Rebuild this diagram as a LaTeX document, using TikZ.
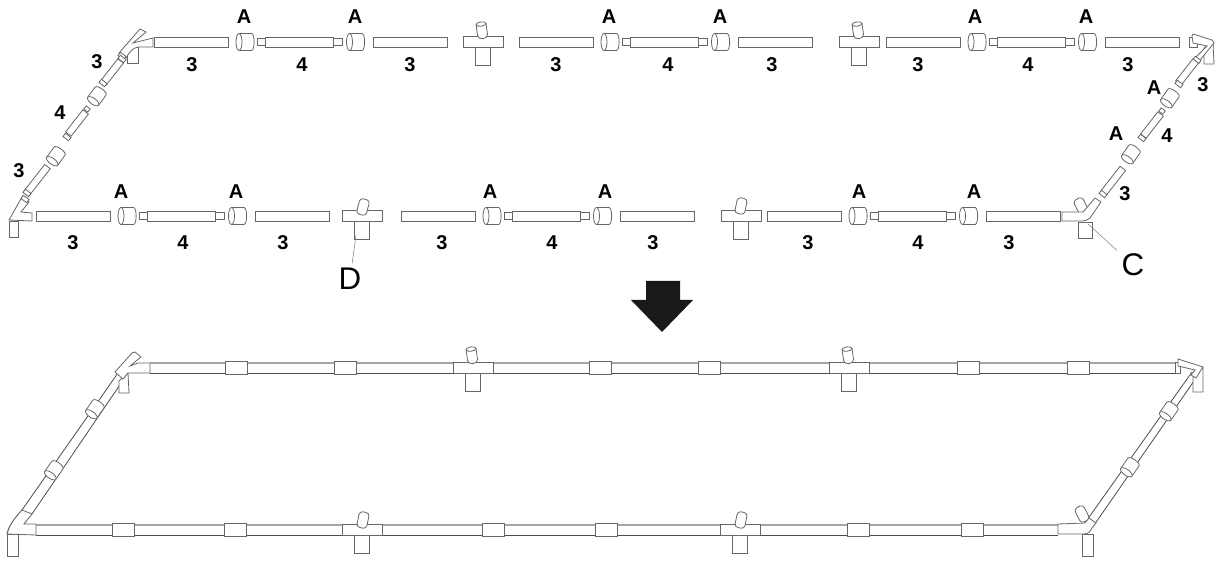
\documentclass[tikz,border=0pt]{standalone}
\usepackage{fontspec}
\setmainfont{Liberation Sans}
\tikzset{
  tubo/.style={draw=black!60, line width=0.6pt, fill=white},
  clara/.style={draw=black!35, line width=0.9pt},
  oscura/.style={draw=black!70, line width=0.6pt},
  guia/.style={draw=black!50, line width=0.4pt},
  cifra/.style={font=\fontsize{15pt}{16pt}\selectfont\bfseries},
  letra/.style={font=\fontsize{23.5pt}{24pt}\selectfont},
  pics/acople/.style={code={
    \draw[tubo] (-6.5,-8.5) -- (6,-8.5) .. controls (9.5,-8.5) and (9.5,8.5) .. (6,8.5) -- (-6.5,8.5);
    \draw[tubo] (-6.5,0) ellipse (3 and 8.5);
  }},
  pics/tramo/.style={code={\draw[tubo] (-#1,-3.5) rectangle (#1,3.5);}},
  pics/anillo/.style={code={\draw[tubo] (-2,-#1) rectangle (2,#1);}},
  pics/te/.style={code={
    \draw[tubo] (-7.5,5) rectangle (7.5,23);
    \draw[tubo] (-20,-5.5) rectangle (20,5.5);
  }},
  pics/boca/.style={code={\draw[tubo,rounded corners=2.5pt] (-5,-8) rectangle (5,8);}},
  pics/tapa/.style={code={
    \draw[tubo] (-5,-7) -- (-5,4) .. controls (-5,9) and (5,9) .. (5,4) -- (5,-7);
    \draw[tubo] (0,-7) ellipse (5 and 2.2);
  }},
  % grupo 3 - A - 4 - A - 3
  pics/modulo/.style={code={
    \draw[tubo] (0,-5) rectangle (74,5);
    \pic at (91.5,0) {acople};
    \draw[tubo] (103,-3.5) rectangle (111,3.5);
    \draw[tubo] (111,-5) rectangle (179,5);
    \draw[tubo] (179,-3.5) rectangle (188,3.5);
    \pic at (202,0) {acople};
    \draw[tubo] (219,-5) rectangle (293,5);
  }},
}
\begin{document}
\begin{tikzpicture}[x=0.75pt,y=-0.75pt]
  \useasboundingbox (0,0) rectangle (1224,573);

  % Piezas sueltas, filas rectas
  \foreach \x in {154,519,886}
    \pic at (\x,42) {modulo};
  \foreach \x in {36,401,767}
    \pic at (\x,216) {modulo};
  \foreach \x in {483,859}{
    \pic at (\x,42) {te};
    \pic[rotate=8] at (\x-1,31) {tapa};
  }
  \pic at (362,216) {te};
  \pic at (741,216) {te};
  \pic[rotate=-15] at (363,207) {boca};
  \pic[rotate=-12] at (741,206) {boca};

  % Codo inferior izquierdo
  \draw[tubo] (9,221) rectangle (18,237);
  \draw[tubo] (9,220) -- (22,197) -- (29,202) -- (21,212) -- (32,213) -- (32,221) -- cycle;
  \pic[rotate=55] at (25,199) {anillo=3.5};
  % Codo superior izquierdo
  \draw[tubo] (127,47) rectangle (138,63);
  \draw[tubo] (119,53) -- (140,29) -- (146,32) -- (133,43) -- (153,38) -- (153,47) -- (138,47) .. controls (132,48) and (129,53) .. (126,58) -- cycle;
  \pic[rotate=55] at (122,56) {anillo=3.5};
  % Codo superior derecho
  \draw[tubo] (1189,37) rectangle (1197,47);
  \draw[tubo] (1204,48) -- (1213,43) -- (1214,64) -- (1204,64) -- cycle;
  \draw[tubo] (1193,34) -- (1212,40) -- (1214,43) -- (1200,60) -- (1195,58) -- (1207,46) -- (1193,43) -- (1192,36) -- cycle;
  \pic[rotate=55] at (1197,60) {anillo=3.5};
  % Codo inferior derecho
  \draw[tubo] (1078,222) rectangle (1092,238);
  \pic[rotate=27] at (1081,206) {boca};
  \draw[tubo] (1062,212) -- (1083,212) -- (1095,198) -- (1101,202) -- (1090,218) .. controls (1088,220) and (1085,221) .. (1082,221) -- (1062,221) -- cycle;

  % Piezas sueltas, diagonal izquierda
  \pic[rotate=52] at (37,180) {tramo=17};
  \pic[rotate=52] at (27,193) {anillo=3.5};
  \pic[rotate=52] at (77,123) {tramo=14};
  \pic[rotate=52] at (67,137) {anillo=3.5};
  \pic[rotate=52] at (87,109) {anillo=2.5};
  \pic[rotate=52] at (112,72) {tramo=14};
  \pic[rotate=52] at (103,83) {anillo=3.5};
  \pic[rotate=52] at (122,59) {anillo=3.5};
  \pic[rotate=54,yscale=.8] at (56,156) {acople};
  \pic[rotate=54,yscale=.8] at (97,96) {acople};
  % Piezas sueltas, diagonal derecha
  \pic[rotate=52] at (1113,181) {tramo=16};
  \pic[rotate=52] at (1103,194) {anillo=3.5};
  \pic[rotate=52] at (1152,125) {tramo=14};
  \pic[rotate=52] at (1142,138) {anillo=3.5};
  \pic[rotate=52] at (1162,111) {anillo=2.5};
  \pic[rotate=52] at (1187,72) {tramo=14};
  \pic[rotate=52] at (1179,84) {anillo=3.5};
  \pic[rotate=55,yscale=.8] at (1131,154) {acople};
  \pic[rotate=55,yscale=.8] at (1170,98) {acople};

  % Etiquetas
  \foreach \x in {244,355,609,720,975,1086}
    \node[cifra] (labA\x) at (\x,17) {A};
  \foreach \x in {121,236,490,605,859,974}
    \node[cifra] (labB\x) at (\x,192) {A};
  \foreach \x in {192,410,556,772,918,1128}
    \node[cifra] (labT\x) at (\x,65) {3};
  \foreach \x in {302,668,1028}
    \node[cifra] (labC\x) at (\x,65) {4};
  \foreach \x in {73,283,442,653,808,1009}
    \node[cifra] (labS\x) at (\x,243) {3};
  \foreach \x in {183,552,918}
    \node[cifra] (labF\x) at (\x,243) {4};
  \node[cifra] (labI1) at (97,62) {3};
  \node[cifra] (labI2) at (60,113) {4};
  \node[cifra] (labI3) at (19,171) {3};
  \node[cifra] (labD1) at (1203,85) {3};
  \node[cifra] (labD2) at (1154,88) {A};
  \node[cifra] (labD3) at (1167,136) {4};
  \node[cifra] (labD4) at (1116,134) {A};
  \node[cifra] (labD5) at (1125,194) {3};

  % Letras con guia
  \node[letra] (letraD) at (350,279) {D};
  \node[letra] (letraC) at (1133,265) {C};
  \coordinate (puntoD) at (356,235);
  \coordinate (puntoC) at (1088,224);
  \draw[guia] (puntoD) -- (letraD);
  \draw[guia] (puntoC) -- (letraC);

  % Flecha
  \fill[black!90] (646,281) -- (680,281) -- (680,300) -- (693,300) -- (662,332) -- (631,300) -- (646,300) -- cycle;

  % Conjunto armado, tramo superior
  \draw[clara] (150,363) -- (1175,363);
  \draw[oscura] (150,373) -- (1175,373);
  \foreach \x in {225,334,589,698,957,1067}
    \draw[tubo] (\x,361) rectangle +(22,13);
  \foreach \x in {473,849}{
    \pic at (\x,368) {te};
    \pic[rotate=8] at (\x-1,356) {tapa};
  }
  % Conjunto armado, tramo inferior
  \draw[clara] (36,525) -- (1058,525);
  \draw[oscura] (36,535) -- (1058,535);
  \foreach \x in {112,224,482,595,847,961}
    \draw[tubo] (\x,523) rectangle +(22,13);
  \foreach \x in {362,740}{
    \pic at (\x,530) {te};
    \pic[rotate=-12] at (\x+1,520) {boca};
  }

  % Diagonales armadas
  \draw[oscura] (7,533) .. controls (9,527) and (12,521) .. (22,510) -- (132,353);
  \draw[oscura] (32,514) -- (128,373);
  \draw[oscura] (1087,520) -- (1192,372);
  \draw[oscura] (1092,528) -- (1203,368);
  \pic[rotate=55,yscale=.8] at (95,409) {acople};
  \pic[rotate=55,yscale=.8] at (54,470) {acople};
  \pic[rotate=55,yscale=.8] at (1169,411) {acople};
  \pic[rotate=55,yscale=.8] at (1130,467) {acople};

  % Codos armados
  \draw[tubo] (7,534) rectangle (18,556);
  \draw[tubo] (24,524) -- (36,524) -- (36,535) -- (7,534) .. controls (9,527) and (12,521) .. (22,510) -- (32,514) -- cycle;
  \draw[tubo] (119,381) -- (128,373) -- (129,393) -- (119,393) -- cycle;
  \draw[tubo] (132,353) -- (135,352) -- (141,357) -- (130,366) -- (138,363) -- (150,363) -- (150,373) -- (128,373) -- (123,379) -- (115,372) -- cycle;
  \draw[tubo] (1193,372) -- (1203,368) -- (1203,392) -- (1193,392) -- cycle;
  \draw[tubo] (1175,362) rectangle (1180,373);
  \draw[tubo] (1178,359) -- (1203,367) -- (1196,378) -- (1191,375) -- (1195,370) -- (1178,366) -- cycle;
  \draw[tubo] (1082,534) rectangle (1093,556);
  \pic[rotate=27] at (1082,514) {boca};
  \draw[tubo] (1058,524) -- (1085,523) -- (1089,518) -- (1096,523) -- (1092,528) .. controls (1090,532) and (1088,534) .. (1084,534) -- (1058,534) -- cycle;
\end{tikzpicture}
\end{document}
